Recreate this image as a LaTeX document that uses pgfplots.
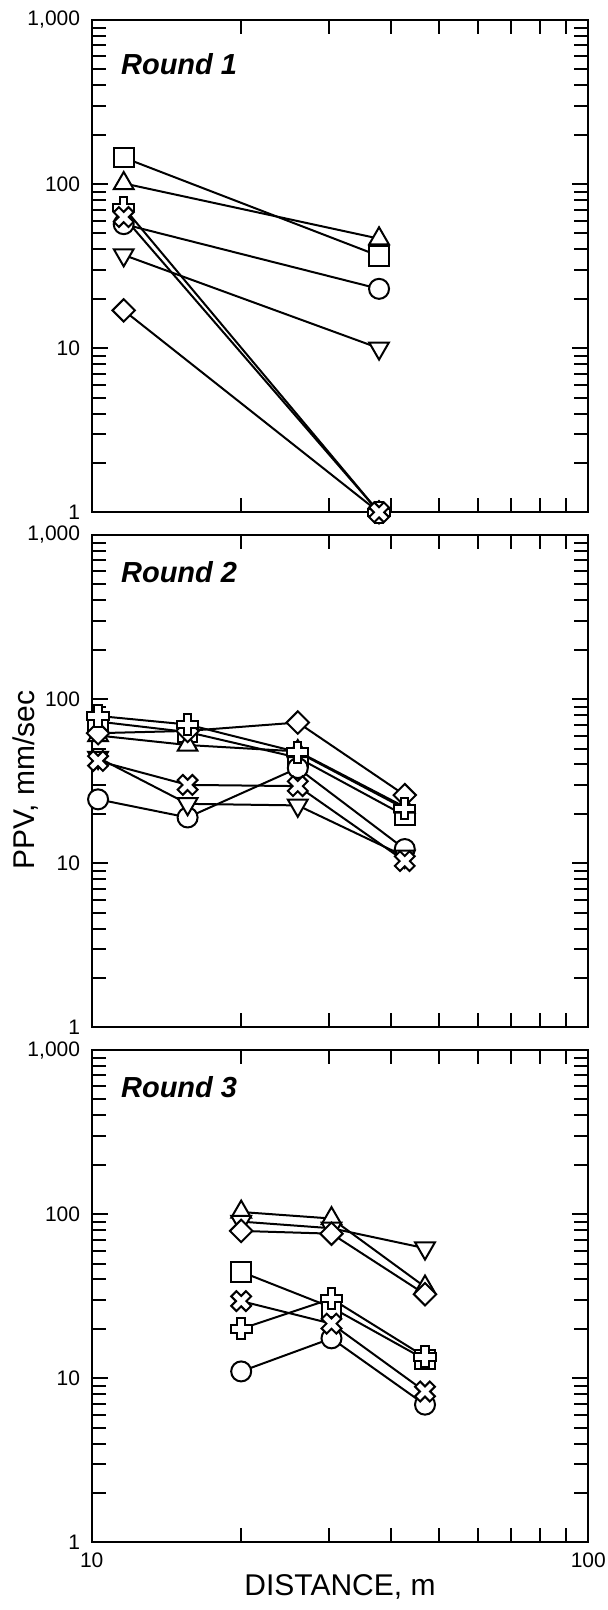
\documentclass[border=0pt]{standalone}
\usepackage{fontspec}
\setmainfont{Liberation Sans}
\usepackage{pgfplots}
\pgfplotsset{compat=1.18}

\pgfdeclareplotmark{hplus}{%
  \pgfpathmoveto{\pgfqpoint{0.35\pgfplotmarksize}{\pgfplotmarksize}}%
  \pgfpathlineto{\pgfqpoint{0.35\pgfplotmarksize}{0.35\pgfplotmarksize}}%
  \pgfpathlineto{\pgfqpoint{\pgfplotmarksize}{0.35\pgfplotmarksize}}%
  \pgfpathlineto{\pgfqpoint{\pgfplotmarksize}{-0.35\pgfplotmarksize}}%
  \pgfpathlineto{\pgfqpoint{0.35\pgfplotmarksize}{-0.35\pgfplotmarksize}}%
  \pgfpathlineto{\pgfqpoint{0.35\pgfplotmarksize}{-\pgfplotmarksize}}%
  \pgfpathlineto{\pgfqpoint{-0.35\pgfplotmarksize}{-\pgfplotmarksize}}%
  \pgfpathlineto{\pgfqpoint{-0.35\pgfplotmarksize}{-0.35\pgfplotmarksize}}%
  \pgfpathlineto{\pgfqpoint{-\pgfplotmarksize}{-0.35\pgfplotmarksize}}%
  \pgfpathlineto{\pgfqpoint{-\pgfplotmarksize}{0.35\pgfplotmarksize}}%
  \pgfpathlineto{\pgfqpoint{-0.35\pgfplotmarksize}{0.35\pgfplotmarksize}}%
  \pgfpathlineto{\pgfqpoint{-0.35\pgfplotmarksize}{\pgfplotmarksize}}%
  \pgfpathclose
  \pgfusepathqfillstroke}

\pgfdeclareplotmark{hx}{%
  \pgfpathmoveto{\pgfqpoint{-0.4596\pgfplotmarksize}{0.9546\pgfplotmarksize}}%
  \pgfpathlineto{\pgfqpoint{0pt}{0.495\pgfplotmarksize}}%
  \pgfpathlineto{\pgfqpoint{0.4596\pgfplotmarksize}{0.9546\pgfplotmarksize}}%
  \pgfpathlineto{\pgfqpoint{0.9546\pgfplotmarksize}{0.4596\pgfplotmarksize}}%
  \pgfpathlineto{\pgfqpoint{0.495\pgfplotmarksize}{0pt}}%
  \pgfpathlineto{\pgfqpoint{0.9546\pgfplotmarksize}{-0.4596\pgfplotmarksize}}%
  \pgfpathlineto{\pgfqpoint{0.4596\pgfplotmarksize}{-0.9546\pgfplotmarksize}}%
  \pgfpathlineto{\pgfqpoint{0pt}{-0.495\pgfplotmarksize}}%
  \pgfpathlineto{\pgfqpoint{-0.4596\pgfplotmarksize}{-0.9546\pgfplotmarksize}}%
  \pgfpathlineto{\pgfqpoint{-0.9546\pgfplotmarksize}{-0.4596\pgfplotmarksize}}%
  \pgfpathlineto{\pgfqpoint{-0.495\pgfplotmarksize}{0pt}}%
  \pgfpathlineto{\pgfqpoint{-0.9546\pgfplotmarksize}{0.4596\pgfplotmarksize}}%
  \pgfpathclose
  \pgfusepathqfillstroke}

\pgfdeclareplotmark{rdiamond}{%
  \pgfpathmoveto{\pgfqpoint{0pt}{\pgfplotmarksize}}%
  \pgfpathlineto{\pgfqpoint{\pgfplotmarksize}{0pt}}%
  \pgfpathlineto{\pgfqpoint{0pt}{-\pgfplotmarksize}}%
  \pgfpathlineto{\pgfqpoint{-\pgfplotmarksize}{0pt}}%
  \pgfpathclose
  \pgfusepathqfillstroke}

\pgfplotsset{
  every axis/.append style={
    width=248.3pt, height=246.15pt, scale only axis,
    xmin=10, xmax=100, ymin=1, ymax=1000,
    xtick={10,100},
    ytick={1,10,100,1000}, yticklabels={1,10,100,{1,000}},
    minor xtick={20,30,40,50,60,70,80,90},
    minor ytick={2,3,4,5,6,7,8,9,20,30,40,50,60,70,80,90,200,300,400,500,600,700,800,900},
    tick align=inside,
    xtick pos=both, ytick pos=both,
    xticklabel pos=lower, yticklabel pos=left,
    major tick length=8pt, minor tick length=7pt,
    axis line style={line width=1.05pt},
    yticklabel style={font=\fontsize{10.5}{12}\selectfont, xshift=-2.3pt},
    xticklabel style={font=\fontsize{10.5}{12}\selectfont, yshift=-1.5pt},
    clip=false,
    anchor=north west,
  },
  every tick/.append style={black, line width=1pt},
  myser/.style={black, line width=1pt, mark options={fill=white, solid, line width=1pt}},
  mSq/.style={myser, mark=square*, mark size=4.9pt},
  mTu/.style={myser, mark=triangle*, mark size=5.7pt},
  mCi/.style={myser, mark=*, mark size=5pt},
  mTd/.style={myser, mark=triangle*, mark size=5.7pt, mark options={fill=white, solid, line width=1pt, rotate=180}},
  mDi/.style={myser, mark=rdiamond, mark size=5.6pt},
  mPl/.style={myser, mark=hplus, mark size=5.3pt},
  mXx/.style={myser, mark=hx, mark size=5.2pt},
}

\newcommand{\roundfont}{\bfseries\itshape\fontsize{14.5}{17}\selectfont}

\begin{document}
\begin{tikzpicture}
\useasboundingbox (-45.85pt,10pt) rectangle (258.15pt,-795pt);

% Round 1
\begin{loglogaxis}[at={(0pt,0pt)}, xticklabels={}]
\addplot[mSq] coordinates {(11.6,145) (37.9,36.5)};
\addplot[mTu] coordinates {(11.6,101) (37.9,46.5)};
\addplot[mCi] coordinates {(11.6,57) (37.9,23)};
\addplot[mTd] coordinates {(11.6,37) (37.9,10)};
\addplot[mDi] coordinates {(11.6,17) (37.9,1)};
\addplot[mPl] coordinates {(11.6,72) (37.9,1)};
\addplot[mXx] coordinates {(11.6,63) (37.9,1)};
\node[anchor=west, font=\roundfont] at (rel axis cs:0.045,0.91) {Round 1};
\end{loglogaxis}

% Round 2
\begin{loglogaxis}[at={(0pt,-257.5pt)}, xticklabels={}]
\addplot[mSq] coordinates {(10.3,73) (15.6,63) (26,44) (42.7,19.5)};
\addplot[mTu] coordinates {(10.3,60) (15.6,52.5) (26,48) (42.7,22)};
\addplot[mCi] coordinates {(10.3,24.5) (15.6,19) (26,38) (42.7,12.2)};
\addplot[mTd] coordinates {(10.3,44) (15.6,23) (26,22.5) (42.7,11)};
\addplot[mDi] coordinates {(10.3,62) (15.6,64) (26,72) (42.7,26)};
\addplot[mPl] coordinates {(10.3,79) (15.6,70) (26,47.5) (42.7,21.5)};
\addplot[mXx] coordinates {(10.3,42) (15.6,30) (26,29.5) (42.7,10.3)};
\node[anchor=west, font=\roundfont] at (rel axis cs:0.045,0.925) {Round 2};
\end{loglogaxis}

% Round 3
\begin{loglogaxis}[at={(0pt,-515pt)}, xticklabels={10,100}]
\addplot[mSq] coordinates {(20,44.5) (30.4,27) (46.9,13)};
\addplot[mTu] coordinates {(20,103) (30.4,94) (46.9,36)};
\addplot[mCi] coordinates {(20,11) (30.4,17.5) (46.9,6.9)};
\addplot[mTd] coordinates {(20,90) (30.4,82) (46.9,62)};
\addplot[mDi] coordinates {(20,79) (30.4,76) (46.9,32.5)};
\addplot[mPl] coordinates {(20,20) (30.4,30.5) (46.9,13.5)};
\addplot[mXx] coordinates {(20,29.5) (30.4,21.5) (46.9,8.3)};
\node[anchor=west, font=\roundfont] at (rel axis cs:0.045,0.925) {Round 3};
\end{loglogaxis}

\node[font=\fontsize{15}{18}\selectfont] at (124.15pt,-783.5pt) {DISTANCE, m};
\node[font=\fontsize{15}{18}\selectfont, rotate=90] at (-33pt,-380pt) {PPV, mm/sec};
\end{tikzpicture}
\end{document}
